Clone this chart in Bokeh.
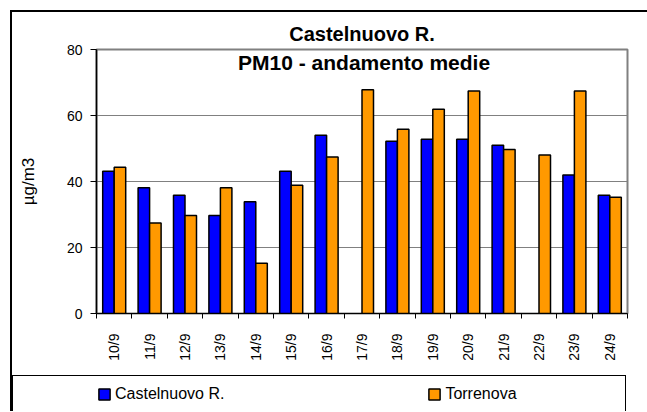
import numpy as np
from bokeh.plotting import figure
from bokeh.layouts import column
from bokeh.models import (Range1d, FixedTicker, Legend, LegendItem, Label, ColumnDataSource)
from bokeh.transform import dodge
from bokeh.embed import file_html
from bokeh.resources import INLINE

# ---- data ----
dates = ["10/9", "11/9", "12/9", "13/9", "14/9", "15/9", "16/9", "17/9",
         "18/9", "19/9", "20/9", "21/9", "22/9", "23/9", "24/9"]
castelnuovo = [43.1, 38.1, 35.8, 29.7, 33.9, 43.1, 54.0, np.nan,
               52.2, 52.8, 52.8, 51.0, np.nan, 42.0, 35.8]
torrenova = [44.3, 27.4, 29.7, 38.1, 15.2, 38.9, 47.4, 67.8,
             55.8, 61.9, 67.4, 49.7, 48.0, 67.4, 35.2]
y_ticks = [0, 20, 40, 60, 80]
series_names = ["Castelnuovo R.", "Torrenova"]
title_text = "Castelnuovo R."
subtitle_text = "PM10 - andamento  medie"
y_label = "µg/m3"

FONT = "Liberation Sans"
BLUE = "#0000FF"
ORANGE = "#FF9900"

n = len(dates)
pos = np.arange(n) + 0.5          # category centres on a numeric axis
src = ColumnDataSource(dict(pos=pos, date=dates,
                            cast=np.array(castelnuovo, dtype=float),
                            torr=np.array(torrenova, dtype=float)))

p = figure(width=635, height=363,
           x_range=Range1d(0, n), y_range=Range1d(0, 80),
           output_backend="svg", toolbar_location=None,
           min_border_left=84, min_border_right=20, min_border_top=37, min_border_bottom=62)

bw = 0.325
bar_kw = dict(width=bw, line_color="black", line_width=1.5)
r1 = p.vbar(x=dodge("pos", -bw / 2), top="cast", source=src, fill_color=BLUE, **bar_kw)
r2 = p.vbar(x=dodge("pos", bw / 2), top="torr", source=src, fill_color=ORANGE, **bar_kw)

# title
p.title.text = title_text
p.title.align = "center"
p.title.text_font = FONT
p.title.text_font_size = "20px"
p.title.text_font_style = "bold"
p.title.text_color = "black"
p.title.standoff = 10

# frame
p.outline_line_color = "#808080"
p.outline_line_width = 2
p.background_fill_color = "white"

# y axis
p.yaxis.ticker = FixedTicker(ticks=y_ticks)
p.yaxis.axis_label = y_label
p.yaxis.axis_label_text_font = FONT
p.yaxis.axis_label_text_font_size = "17px"
p.yaxis.axis_label_text_font_style = "normal"
p.yaxis.axis_label_text_color = "black"
p.yaxis.axis_label_standoff = 26
p.yaxis.major_label_text_font = FONT
p.yaxis.major_label_text_font_size = "14px"
p.yaxis.major_label_text_color = "black"
p.yaxis.major_label_standoff = 8
p.yaxis.major_tick_out = 6
p.yaxis.major_tick_in = 0
p.yaxis.minor_tick_line_color = None
p.yaxis.axis_line_color = "black"
p.yaxis.axis_line_width = 1.5
p.yaxis.major_tick_line_color = "black"
p.ygrid.ticker = FixedTicker(ticks=y_ticks)
p.ygrid.grid_line_color = "#808080"
p.xgrid.grid_line_color = None

# x axis: labels at category centres, tick marks between categories
xaxis = p.xaxis[0]
xaxis.ticker = FixedTicker(ticks=list(pos), minor_ticks=list(range(n + 1)))
xaxis.major_label_overrides = {float(c): d for c, d in zip(pos, dates)}
xaxis.major_label_orientation = np.pi / 2
xaxis.major_label_text_font = FONT
xaxis.major_label_text_font_size = "14px"
xaxis.major_label_text_color = "black"
xaxis.major_tick_line_color = None
xaxis.major_tick_out = 5
xaxis.major_tick_in = 0
xaxis.major_label_standoff = 15
xaxis.minor_tick_line_color = "black"
xaxis.minor_tick_out = 5
xaxis.minor_tick_in = 0
xaxis.axis_line_color = "black"
xaxis.axis_line_width = 1

# subtitle inside the plot area
sub = Label(x=n / 2, y=76.2, text=subtitle_text, text_align="center",
            text_baseline="middle", x_offset=5, text_font=FONT, text_font_size="21px",
            text_font_style="bold", text_color="black")
p.add_layout(sub)

# legend strip; the CSS border forms the legend box.  The two bar renderers here
# share the data but sit outside the strip's y range, so only their legend keys show.
q = figure(width=614, height=36, x_range=Range1d(0, n), y_range=Range1d(1000, 1001),
           output_backend="svg", toolbar_location=None,
           x_axis_location=None, y_axis_location=None,
           min_border_left=81, min_border_right=20, min_border_top=0, min_border_bottom=0,
           styles={"border-top": "1px solid black", "border-left": "1px solid black",
                   "border-right": "1px solid black"})
q.grid.visible = False
q.outline_line_color = None
k1 = q.vbar(x=dodge("pos", -bw / 2), top="cast", source=src, fill_color=BLUE, **bar_kw)
k2 = q.vbar(x=dodge("pos", bw / 2), top="torr", source=src, fill_color=ORANGE, **bar_kw)
legend = Legend(items=[LegendItem(label=series_names[0], renderers=[k1]),
                       LegendItem(label=series_names[1], renderers=[k2])],
                orientation="horizontal", location=(0, 9),
                border_line_color=None, background_fill_alpha=0,
                glyph_width=14, glyph_height=14, label_height=14, spacing=203,
                padding=0, margin=0, label_standoff=4,
                label_text_font=FONT, label_text_font_size="16px", label_text_color="black")
q.add_layout(legend, "center")

layout = column(p, q, spacing=0,
                styles={"border-left": "2px solid black", "border-top": "2px solid black",
                        "margin-left": "10px", "margin-top": "10px"})

open("out.html", "w").write(file_html(layout, INLINE))
